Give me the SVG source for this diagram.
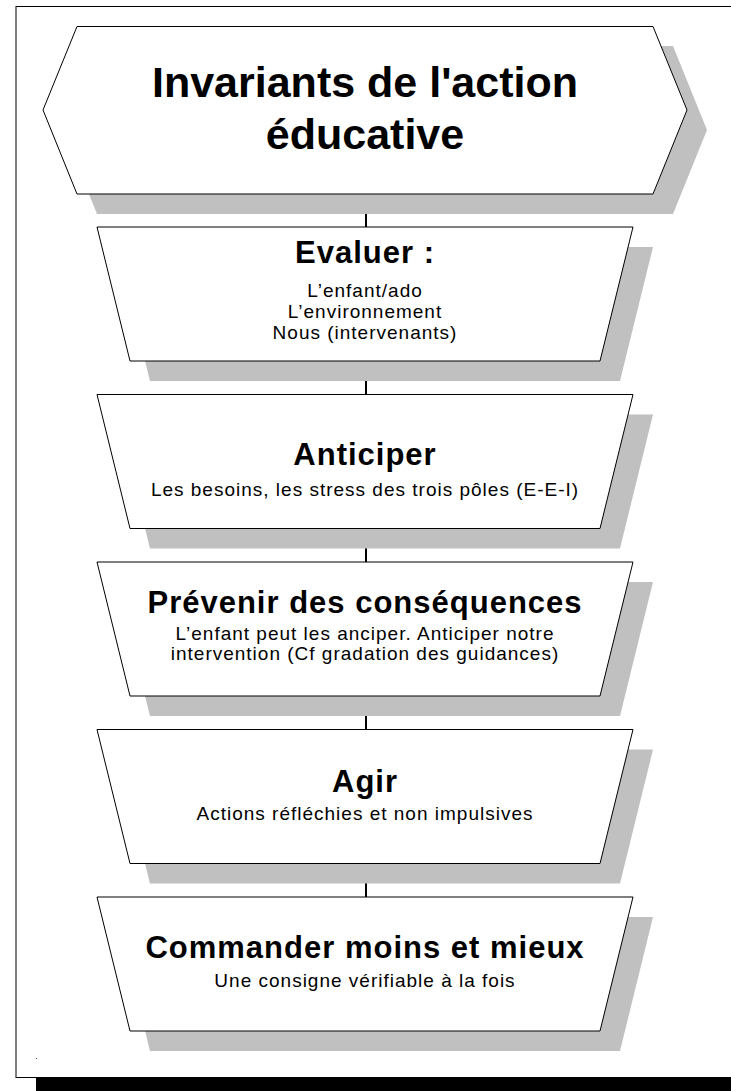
<svg xmlns="http://www.w3.org/2000/svg" width="731" height="1091" viewBox="0 0 731 1091">
  <style>
    .shadow { fill: #c0c0c0; }
    .shape { fill: #ffffff; stroke: #000000; stroke-width: 1; }
    .head { font-family: "Liberation Sans", Arial, sans-serif; font-weight: bold; font-size: 31px; letter-spacing: 1px; text-anchor: middle; fill: #000; }
    .title { font-family: "Liberation Sans", Arial, sans-serif; font-weight: bold; font-size: 43px; text-anchor: middle; fill: #000; }
    .body { font-family: "Liberation Sans", Arial, sans-serif; font-size: 19px; letter-spacing: 1px; text-anchor: middle; fill: #000; }
    .link { stroke: #000; stroke-width: 2; fill: none; }
  </style>
  <defs>
    <polygon id="trap" points="97,0 633,0 600,134 130,134"/>
  </defs>

  <!-- page -->
  <rect x="0" y="0" width="731" height="1091" fill="#ffffff"/>
  <rect x="36" y="1078" width="700" height="20" fill="#000000"/>
  <rect x="16" y="6.5" width="720" height="1071" fill="#ffffff" stroke="#000000" stroke-width="1"/>
  <rect x="36" y="1058" width="1" height="1" fill="#555555"/>

  <!-- connectors -->
  <g id="connectors">
    <line class="link" x1="366" y1="194" x2="366" y2="227"/>
    <line class="link" x1="366" y1="361" x2="366" y2="394.5"/>
    <line class="link" x1="366" y1="528.5" x2="366" y2="562"/>
    <line class="link" x1="366" y1="696" x2="366" y2="729.5"/>
    <line class="link" x1="366" y1="863.5" x2="366" y2="897"/>
  </g>

  <!-- heading -->
  <g id="node-title">
    <polygon class="shadow" points="97,46 673,46 707,130 673,214 97,214 63,130"/>
    <polygon class="shape" points="77,26.5 653,26.5 687,110 653,194 77,194 43,110"/>
    <text class="title" x="365" y="97">Invariants de l'action</text>
    <text class="title" x="365" y="149">éducative</text>
  </g>

  <g id="node-evaluer" transform="translate(0,227)">
    <use href="#trap" class="shadow" x="20" y="20"/>
    <use href="#trap" class="shape"/>
    <text class="head" x="365" y="36">Evaluer :</text>
    <text class="body" x="365" y="70">L’enfant/ado</text>
    <text class="body" x="365" y="91">L’environnement</text>
    <text class="body" x="365" y="112">Nous (intervenants)</text>
  </g>

  <g id="node-anticiper" transform="translate(0,394.5)">
    <use href="#trap" class="shadow" x="20" y="20"/>
    <use href="#trap" class="shape"/>
    <text class="head" x="365" y="70">Anticiper</text>
    <text class="body" x="365" y="101">Les besoins, les stress des trois pôles (E-E-I)</text>
  </g>

  <g id="node-prevenir" transform="translate(0,562)">
    <use href="#trap" class="shadow" x="20" y="20"/>
    <use href="#trap" class="shape"/>
    <text class="head" x="365" y="51">Prévenir des conséquences</text>
    <text class="body" x="365" y="78">L’enfant peut les anciper. Anticiper notre</text>
    <text class="body" x="365" y="98">intervention (Cf gradation des guidances)</text>
  </g>

  <g id="node-agir" transform="translate(0,729.5)">
    <use href="#trap" class="shadow" x="20" y="20"/>
    <use href="#trap" class="shape"/>
    <text class="head" x="365" y="62">Agir</text>
    <text class="body" x="365" y="90">Actions réfléchies et non impulsives</text>
  </g>

  <g id="node-commander" transform="translate(0,897)">
    <use href="#trap" class="shadow" x="20" y="20"/>
    <use href="#trap" class="shape"/>
    <text class="head" x="365" y="61">Commander moins et mieux</text>
    <text class="body" x="365" y="90">Une consigne vérifiable à la fois</text>
  </g>
</svg>
